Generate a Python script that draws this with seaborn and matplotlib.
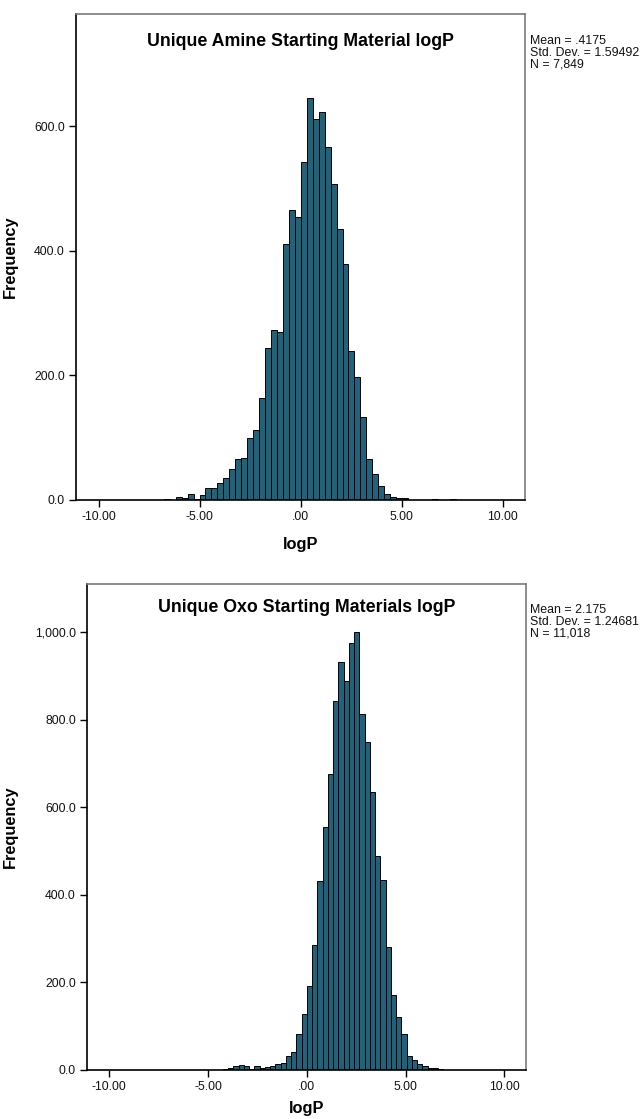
import numpy as np
import pandas as pd
import matplotlib
matplotlib.use("Agg")
import matplotlib.pyplot as plt
from matplotlib.ticker import FuncFormatter
import seaborn as sns

# ---------------- data ----------------
# Top histogram: Unique Amine Starting Material logP
amine_bin_start = -6.785
amine_bin_width = 0.295
amine_counts = [2, 0, 5, 4, 9, 1, 8, 19, 20, 28, 36, 49, 66, 67, 100, 112,
                164, 244, 273, 269, 411, 466, 454, 543, 645, 612, 623, 567,
                507, 435, 379, 239, 198, 133, 65, 42, 22, 9, 5, 3, 4,
                0, 0, 0, 0, 2, 0, 0, 1]
amine_stats = ["Mean = .4175", "Std. Dev. = 1.59492", "N = 7,849"]
amine_title = "Unique Amine Starting Material logP"

# Bottom histogram: Unique Oxo Starting Materials logP
oxo_bin_start = -9.044
oxo_bin_width = 0.266
oxo_counts = [1] + [0] * 14 + [1, 1, 1, 2, 5, 9, 11, 8, 3, 8, 5, 6, 8, 13, 15,
              31, 40, 82, 127,
              191, 286, 431, 555, 675, 842, 932, 888, 976, 1000,
              812, 750, 635, 488, 433, 281, 172, 120, 82, 32,
              22, 13, 10, 5, 4, 2, 1, 1, 1, 1]
oxo_stats = ["Mean = 2.175", "Std. Dev. = 1.24681", "N = 11,018"]
oxo_title = "Unique Oxo Starting Materials logP"

x_ticks = [-10, -5, 0, 5, 10]
x_ticklabels = ["-10.00", "-5.00", ".00", "5.00", "10.00"]
amine_yticks = [0, 200, 400, 600]
oxo_yticks = [0, 200, 400, 600, 800, 1000]

# ---------------- style ----------------
sns.set_theme(style="white")
plt.rcParams['font.family'] = ['Liberation Sans', 'DejaVu Sans']
plt.rcParams['text.color'] = 'black'
plt.rcParams['axes.labelcolor'] = 'black'

BAR = "#216179"

fig = plt.figure(figsize=(6.42, 11.19), dpi=100)
W, H = 642, 1119


def add_ax(l, r, t, b):
    return fig.add_axes([l / W, 1 - b / H, (r - l) / W, (b - t) / H])


def draw(ax, start, width, counts, ymax, yticks, ylabel_x, xlabel_y):
    counts = np.asarray(counts, dtype=float)
    edges = start + width * np.arange(len(counts) + 1)
    centers = (edges[:-1] + edges[1:]) / 2
    df = pd.DataFrame({"logP": centers, "count": counts})
    sns.histplot(data=df, x="logP", weights="count", bins=edges.tolist(),
                 ax=ax, color=BAR, edgecolor="black", linewidth=0.7,
                 alpha=1.0)
    ax.set_xlim(-11.13, 11.1)
    ax.set_ylim(0, ymax)
    ax.set_xticks(x_ticks)
    ax.set_xticklabels(x_ticklabels)
    ax.set_yticks(yticks)
    ax.yaxis.set_major_formatter(FuncFormatter(lambda v, p: f"{v:,.1f}"))
    ax.tick_params(axis="both", which="major", direction="out", length=5,
                   width=1, color="black", labelsize=8.8, pad=3,
                   labelcolor="#111111")
    ax.tick_params(axis="x", bottom=True)
    ax.tick_params(axis="y", left=True)
    for s in ["left", "bottom"]:
        ax.spines[s].set_color("black")
        ax.spines[s].set_linewidth(1.2)
    for s in ["top", "right"]:
        ax.spines[s].set_color("#7a7a7a")
        ax.spines[s].set_linewidth(1.2)
    ax.set_ylabel("Frequency", fontsize=11.8, fontweight="bold", color="black")
    ax.yaxis.set_label_coords(ylabel_x, 0.5)
    ax.set_xlabel("logP", fontsize=11.8, fontweight="bold", color="black")
    ax.xaxis.label.set_va("center")
    ax.xaxis.set_label_coords(0.5, xlabel_y)
    return ax


# top axes
ax1 = add_ax(76, 525, 14, 500)
draw(ax1, amine_bin_start, amine_bin_width, amine_counts, 780, amine_yticks,
     (18 - 76) / 449, -(545 - 500) / 486)
ax1.text(0.5, (500 - 42) / 486, amine_title, transform=ax1.transAxes,
         ha="center", va="center", fontsize=12.8, fontweight="bold",
         color="black")
fig.text(530 / W, 1 - 35 / H, "\n".join(amine_stats), ha="left", va="top",
         fontsize=8.9, linespacing=0.95, color="#111111")

# bottom axes
ax2 = add_ax(87, 526, 584, 1070)
draw(ax2, oxo_bin_start, oxo_bin_width, oxo_counts, 1110, oxo_yticks,
     (18 - 87) / 439, -(1108 - 1070) / 486)
ax2.text(0.5, (1070 - 607) / 486, oxo_title, transform=ax2.transAxes,
         ha="center", va="center", fontsize=12.8, fontweight="bold",
         color="black")
fig.text(530 / W, 1 - 604 / H, "\n".join(oxo_stats), ha="left", va="top",
         fontsize=8.9, linespacing=0.95, color="#111111")

fig.savefig("out.png", dpi=100, facecolor="white")
